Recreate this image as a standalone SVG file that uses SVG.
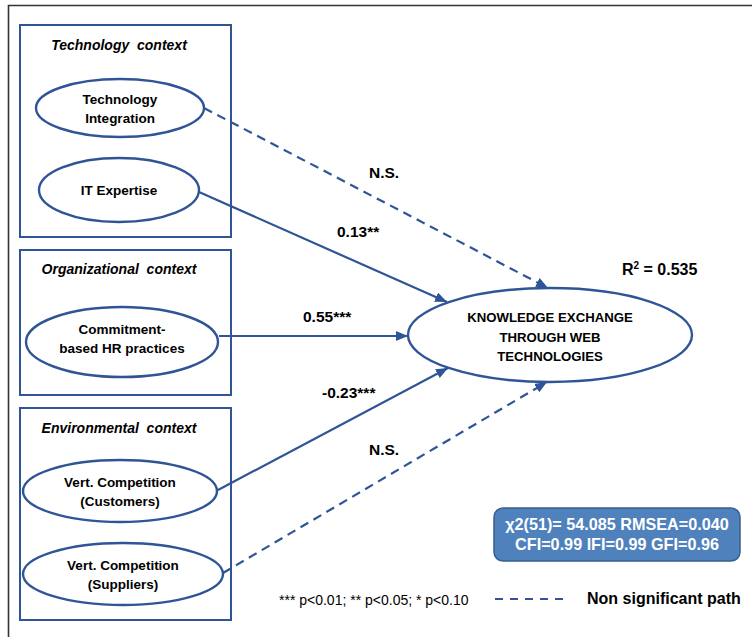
<svg xmlns="http://www.w3.org/2000/svg" width="752" height="637" viewBox="0 0 752 637">
<defs>
<style>
.box{fill:none;stroke:#2F5597;stroke-width:2}
.el{fill:#fff;stroke:#2F5597;stroke-width:2.4}
.ctx{font-family:"Liberation Sans",Arial,sans-serif;font-size:14px;font-style:italic;font-weight:bold;fill:#000;text-anchor:middle;white-space:pre}
.nt{font-family:"Liberation Sans",Arial,sans-serif;font-size:13.5px;font-weight:bold;fill:#000;text-anchor:middle}
.kt{font-size:13.2px}
.lbl{font-family:"Liberation Sans",Arial,sans-serif;font-size:15.5px;font-weight:bold;fill:#000}
.edge{fill:none;stroke:#2F5597;stroke-width:2.2}
.dash{stroke-dasharray:9 6}
</style>
<marker id="ah" viewBox="0 0 12 10" refX="12" refY="5" markerWidth="12" markerHeight="10" markerUnits="userSpaceOnUse" orient="auto">
<path d="M0,0 L12,5 L0,10 Z" fill="#2F5597"/>
</marker>
</defs>
<rect width="752" height="637" fill="#fff"/>
<path d="M8.5,637 V5.5 H752" fill="none" stroke="#333" stroke-width="1.6"/>

<g id="tech-context">
<rect class="box" x="20" y="25" width="211" height="212"/>
<text class="ctx" x="119" y="50" xml:space="preserve">Technology  context</text>
</g>
<g id="org-context">
<rect class="box" x="20" y="250" width="211" height="145"/>
<text class="ctx" x="119" y="274" xml:space="preserve">Organizational  context</text>
</g>
<g id="env-context">
<rect class="box" x="20" y="408" width="211" height="212"/>
<text class="ctx" x="119" y="433" xml:space="preserve">Environmental  context</text>
</g>

<g id="edges">
<line class="edge dash" x1="204" y1="108" x2="548" y2="288" marker-end="url(#ah)"/>
<line class="edge" x1="199" y1="192" x2="447" y2="302" marker-end="url(#ah)"/>
<line class="edge" x1="219" y1="336" x2="408" y2="336" marker-end="url(#ah)"/>
<line class="edge" x1="218" y1="490" x2="448" y2="368" marker-end="url(#ah)"/>
<line class="edge dash" x1="223" y1="573" x2="547" y2="382" marker-end="url(#ah)"/>
<text class="lbl" x="369" y="178">N.S.</text>
<text class="lbl" x="337" y="237">0.13**</text>
<text class="lbl" x="303" y="322">0.55***</text>
<text class="lbl" x="322" y="398">-0.23***</text>
<text class="lbl" x="369" y="455">N.S.</text>
</g>

<g id="tech-integration">
<ellipse class="el" cx="120" cy="108" rx="84" ry="29"/>
<text class="nt" x="120" y="104">Technology</text>
<text class="nt" x="120" y="123">Integration</text>
</g>
<g id="it-expertise">
<ellipse class="el" cx="119" cy="190" rx="80" ry="32"/>
<text class="nt" x="119" y="195">IT Expertise</text>
</g>
<g id="commitment-hr">
<ellipse class="el" cx="122" cy="342" rx="96" ry="35"/>
<text class="nt" x="122" y="334">Commitment-</text>
<text class="nt" x="122" y="353">based HR practices</text>
</g>
<g id="vert-customers">
<ellipse class="el" cx="120" cy="491" rx="97" ry="31"/>
<text class="nt" x="120" y="487">Vert. Competition</text>
<text class="nt" x="120" y="506">(Customers)</text>
</g>
<g id="vert-suppliers">
<ellipse class="el" cx="123" cy="574" rx="100" ry="31"/>
<text class="nt" x="123" y="570">Vert. Competition</text>
<text class="nt" x="123" y="589">(Suppliers)</text>
</g>
<g id="knowledge-exchange">
<ellipse class="el" cx="550" cy="335" rx="142" ry="47"/>
<text class="nt kt" x="550" y="322">KNOWLEDGE EXCHANGE</text>
<text class="nt kt" x="550" y="342">THROUGH WEB</text>
<text class="nt kt" x="550" y="361">TECHNOLOGIES</text>
</g>
<g id="r2">
<text class="lbl" x="622" y="275" style="font-size:16px">R<tspan dy="-6" style="font-size:10px">2</tspan><tspan dy="6"> = 0.535</tspan></text>
</g>
<g id="fit-stats">
<rect x="494" y="508" width="246" height="53" rx="9" fill="#4F81BD" stroke="#3A5F8C" stroke-width="1.5"/>
<text class="lbl" x="617" y="530" text-anchor="middle" style="fill:#fff;font-size:16.2px">χ2(51)= 54.085 RMSEA=0.040</text>
<text class="lbl" x="617" y="550" text-anchor="middle" style="fill:#fff;font-size:16.2px">CFI=0.99 IFI=0.99 GFI=0.96</text>
</g>
<g id="legend">
<text x="279" y="605" style="font-family:'Liberation Sans',Arial,sans-serif;font-size:14px;fill:#000">*** p&lt;0.01; ** p&lt;0.05; * p&lt;0.10</text>
<line class="edge dash" x1="495" y1="599" x2="568" y2="599" style="stroke-dasharray:8 7"/>
<text class="lbl" x="587" y="604" style="font-size:16px">Non significant path</text>
</g>
</svg>
